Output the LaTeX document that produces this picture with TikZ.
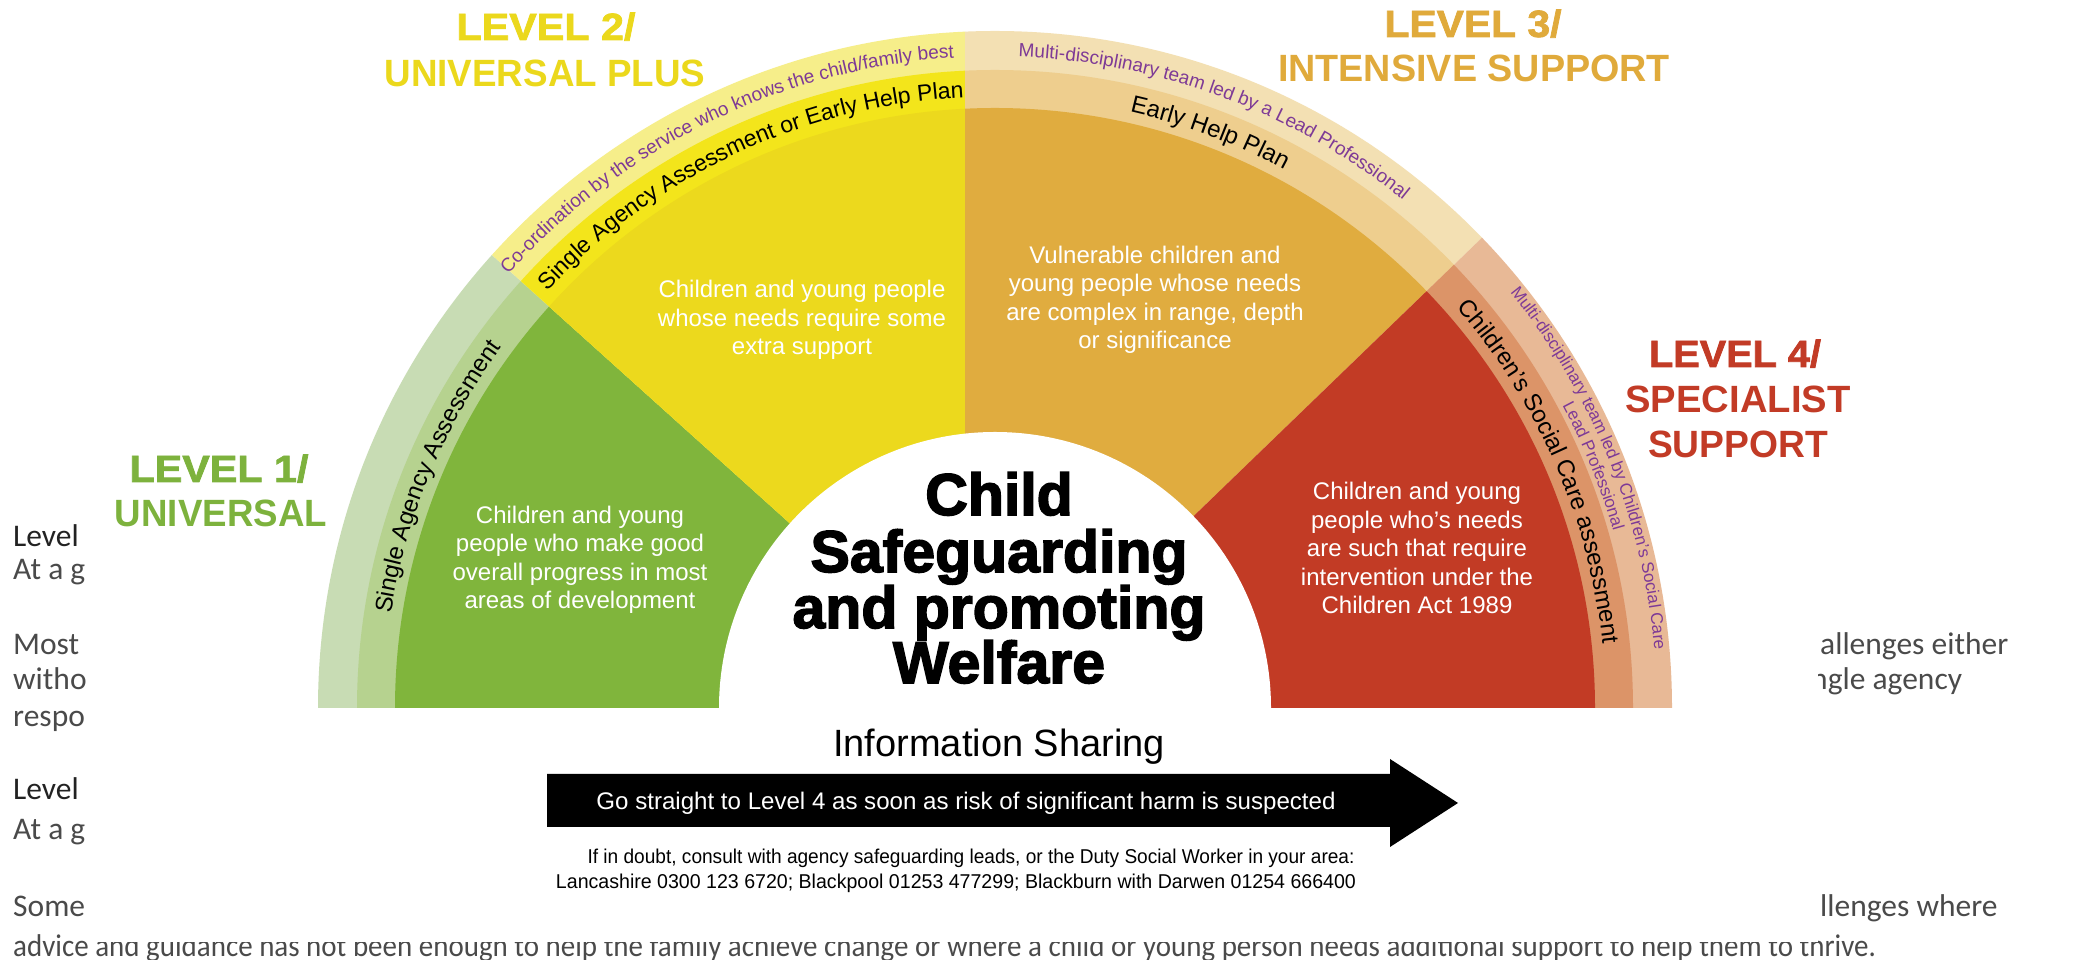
\documentclass[tikz,border=0pt]{standalone}
\usepackage{fontspec}
\usepackage{graphicx}
\usetikzlibrary{decorations.text}
\setmainfont{Liberation Sans}
\newfontfamily\docfont{Carlito}
\newfontfamily\heavyfont{Liberation Sans}[BoldFeatures={FakeBold=1.8}]
\newfontfamily\titlefont{Liberation Sans}[BoldFeatures={FakeBold=2.6}]

% fill colours of the sectors (A) and of the two rings (B inner, C outer)
\definecolor{grnA}{HTML}{80B53C}
\definecolor{grnB}{HTML}{B6D28F}
\definecolor{grnC}{HTML}{C8DCB4}
\definecolor{ylwA}{HTML}{ECD91D}
\definecolor{ylwB}{HTML}{F3E51B}
\definecolor{ylwC}{HTML}{F6EE8A}
\definecolor{orgA}{HTML}{E0AC3F}
\definecolor{orgB}{HTML}{EECE8E}
\definecolor{orgC}{HTML}{F3E0B3}
\definecolor{redA}{HTML}{C23B25}
\definecolor{redB}{HTML}{DC9468}
\definecolor{redC}{HTML}{E8B996}
\definecolor{purp}{HTML}{7E3A96}
% level heading colours
\definecolor{lvlA}{HTML}{7DB23D}
\definecolor{lvlB}{HTML}{EBD81C}
\definecolor{lvlC}{HTML}{E0AA3B}
\definecolor{lvlD}{HTML}{C23B26}
% body text of the page behind the chart
\definecolor{doctext}{HTML}{4A4A4A}
\definecolor{docdark}{HTML}{222222}

% stretch a line horizontally to a given width, keeping its height
\newcommand{\fitto}[2]{\resizebox{#1}{\height}{#2}}

\begin{document}
\begin{tikzpicture}[x=1pt,y=1pt,
  lvltop/.style={anchor=base, inner sep=0pt, font=\heavyfont\bfseries\fontsize{38}{38}\selectfont},
  lvlsub/.style={anchor=base, inner sep=0pt, font=\bfseries\fontsize{38}{38}\selectfont},
  sectortext/.style={align=center, text=white, inner sep=0pt, font=\fontsize{24}{28.5}\selectfont},
  heading/.style={anchor=base, inner sep=0pt, font=\titlefont\bfseries\fontsize{59}{59}\selectfont},
  doc/.style={anchor=base west, inner sep=0pt, text=doctext, font=\docfont\fontsize{31.5}{31.5}\selectfont},
  dochead/.style={doc, text=docdark},
  plain/.style={anchor=base, inner sep=0pt}
]
\useasboundingbox (0,0) rectangle (2075,960);

% ---- page text running behind the chart ----
\node[dochead] (d1) at (13,413) {Level};
\node[doc] (d2) at (13,380) {At a g};
\node[doc] (d3) at (13,305) {Most};
\node[doc] (d4) at (13,270) {witho};
\node[doc] (d5) at (13,233) {respo};
\node[dochead] (d6) at (13,160) {Level};
\node[doc] (d7) at (13,120) {At a g};
\node[doc] (d8) at (13,43) {Some};
\node[doc] (d9) at (13,3) {\fitto{1863pt}{advice and guidance has not been enough to help the family achieve change or where a child or young person needs additional support to help them to thrive.}};
\node[doc] (d10) at (1820,305) {allenges either};
\node[doc] (d11) at (1811,270) {ngle agency};
\node[doc] (d12) at (1820,43) {llenges where};

% white panel of the chart
\fill[white] (95,18) rectangle (1818,960);

% ---- the semicircular chart ----
\coordinate (C) at (995,252);
\begin{scope}[shift={(C)}]
  % level 1 wedge
  \begin{scope}
    \clip (0,0) -- (180:1500) -- (138:1500) -- cycle;
    \fill[grnC] (0,0) circle[radius=677];
    \fill[grnB] (0,0) circle[radius=638];
    \fill[grnA] (0,0) circle[radius=600];
  \end{scope}
  % level 2 wedge
  \begin{scope}
    \clip (0,0) -- (138:1500) -- (-30,1500) -- (-30,0) -- cycle;
    \fill[ylwC] (0,0) circle[radius=677];
    \fill[ylwB] (0,0) circle[radius=638];
    \fill[ylwA] (0,0) circle[radius=600];
  \end{scope}
  % level 3 wedge
  \begin{scope}
    \clip (-30,0) -- (-30,1500) -- (44:1500) -- (0,0) -- cycle;
    \fill[orgC] (0,0) circle[radius=677];
    \fill[orgB] (0,0) circle[radius=638];
    \fill[orgA] (0,0) circle[radius=600];
  \end{scope}
  % level 4 wedge
  \begin{scope}
    \clip (0,0) -- (44:1500) -- (0:1500) -- cycle;
    \fill[redC] (0,0) circle[radius=677];
    \fill[redB] (0,0) circle[radius=638];
    \fill[redA] (0,0) circle[radius=600];
  \end{scope}
  % white hub
  \fill[white] (-276,0) arc[start angle=180, end angle=0, radius=276] -- cycle;

  % ---- texts along the rings ----
  \path[decorate, decoration={text along path, text align=center,
      text={|\fontsize{24}{24}\selectfont|Single Agency Assessment}}]
    (180:611) arc[start angle=180, end angle=135, radius=611];
  \path[decorate, decoration={text along path, text align=center,
      text={|\fontsize{19}{19}\selectfont\color{purp}|Co-ordination by the service who knows the child/family best}}]
    (150:651.5) arc[start angle=150, end angle=82, radius=651.5];
  \path[decorate, decoration={text along path, text align=center,
      text={|\fontsize{23}{23}\selectfont|Single Agency Assessment or Early Help Plan}}]
    (147:611.5) arc[start angle=147, end angle=83, radius=611.5];
  \path[decorate, decoration={text along path, text align=center,
      text={|\fontsize{19}{19}\selectfont\color{purp}|Multi-disciplinary team led by a Lead Professional}}]
    (100:651.5) arc[start angle=100, end angle=39.2, radius=651.5];
  \path[decorate, decoration={text along path, text align=center,
      text={|\fontsize{24}{24}\selectfont|Early Help Plan}}]
    (90:611) arc[start angle=90, end angle=49, radius=611];
  \path[decorate, decoration={text along path, text align=center,
      text={|\fontsize{24}{24}\selectfont|Children’s Social Care assessment}}]
    (53:611) arc[start angle=53, end angle=-6, radius=611];
  \path[decorate, decoration={text along path, text align=center,
      text={|\fontsize{17}{17}\selectfont\color{purp}|Multi-disciplinary team led by Children’s Social Care}}]
    (52:662) arc[start angle=52, end angle=-8, radius=662];
  \path[decorate, decoration={text along path, text align=center,
      text={|\fontsize{17}{17}\selectfont\color{purp}|Lead Professional}}]
    (37:643) arc[start angle=37, end angle=7, radius=643];
\end{scope}

% ---- texts inside the sectors ----
\node[sectortext] (s1) at (580,400) {Children and young\\people who make good\\overall progress in most\\areas of development};
\node[sectortext] (s2) at (802,640) {Children and young people\\whose needs require some\\extra support};
\node[sectortext] (s3) at (1155,660) {Vulnerable children and\\young people whose needs\\are complex in range, depth\\or significance};
\node[sectortext] (s4) at (1417,412) {Children and young\\people who’s needs\\are such that require\\intervention under the\\Children Act 1989};

% ---- hub title ----
\node[heading] (t1) at (999,445) {Child};
\node[heading] (t2) at (999,388) {Safeguarding};
\node[heading] (t3) at (999,332) {and promoting};
\node[heading] (t4) at (999,277) {Welfare};

% ---- level headings ----
\node[lvltop, text=lvlA] (l1a) at (219,478) {\fitto{179pt}{LEVEL 1/}};
\node[lvlsub, text=lvlA] (l1b) at (221,433) {\fitto{212pt}{UNIVERSAL}};
\node[lvltop, text=lvlB] (l2a) at (546,920) {\fitto{179pt}{LEVEL 2/}};
\node[lvlsub, text=lvlB] (l2b) at (545,873) {\fitto{321pt}{UNIVERSAL PLUS}};
\node[lvltop, text=lvlC] (l3a) at (1473,923) {\fitto{177pt}{LEVEL 3/}};
\node[lvlsub, text=lvlC] (l3b) at (1474,878) {\fitto{392pt}{INTENSIVE SUPPORT}};
\node[lvltop, text=lvlD] (l4a) at (1735,593) {\fitto{172pt}{LEVEL 4/}};
\node[lvlsub, text=lvlD] (l4b) at (1738,547) {\fitto{225pt}{SPECIALIST}};
\node[lvlsub, text=lvlD] (l4c) at (1738,502) {\fitto{180pt}{SUPPORT}};

% ---- information sharing arrow ----
\node[plain, font=\fontsize{38}{38}\selectfont] (info) at (999,203) {Information Sharing};
\fill[black] (547,186) -- (1390,186) -- (1390,201) -- (1458,157) -- (1390,113)
  -- (1390,133) -- (547,133) -- cycle;
\node[plain, text=white, font=\fontsize{24}{24}\selectfont] (go) at (966,150)
  {\fitto{739pt}{Go straight to Level 4 as soon as risk of significant harm is suspected}};
\node[plain, font=\fontsize{20}{20}\selectfont] (doubt) at (971,96)
  {\fitto{767pt}{If in doubt, consult with agency safeguarding leads, or the Duty Social Worker in your area:}};
\node[plain, font=\fontsize{20}{20}\selectfont] (phones) at (956,71)
  {\fitto{800pt}{Lancashire 0300 123 6720; Blackpool 01253 477299; Blackburn with Darwen 01254 666400}};
\end{tikzpicture}
\end{document}
